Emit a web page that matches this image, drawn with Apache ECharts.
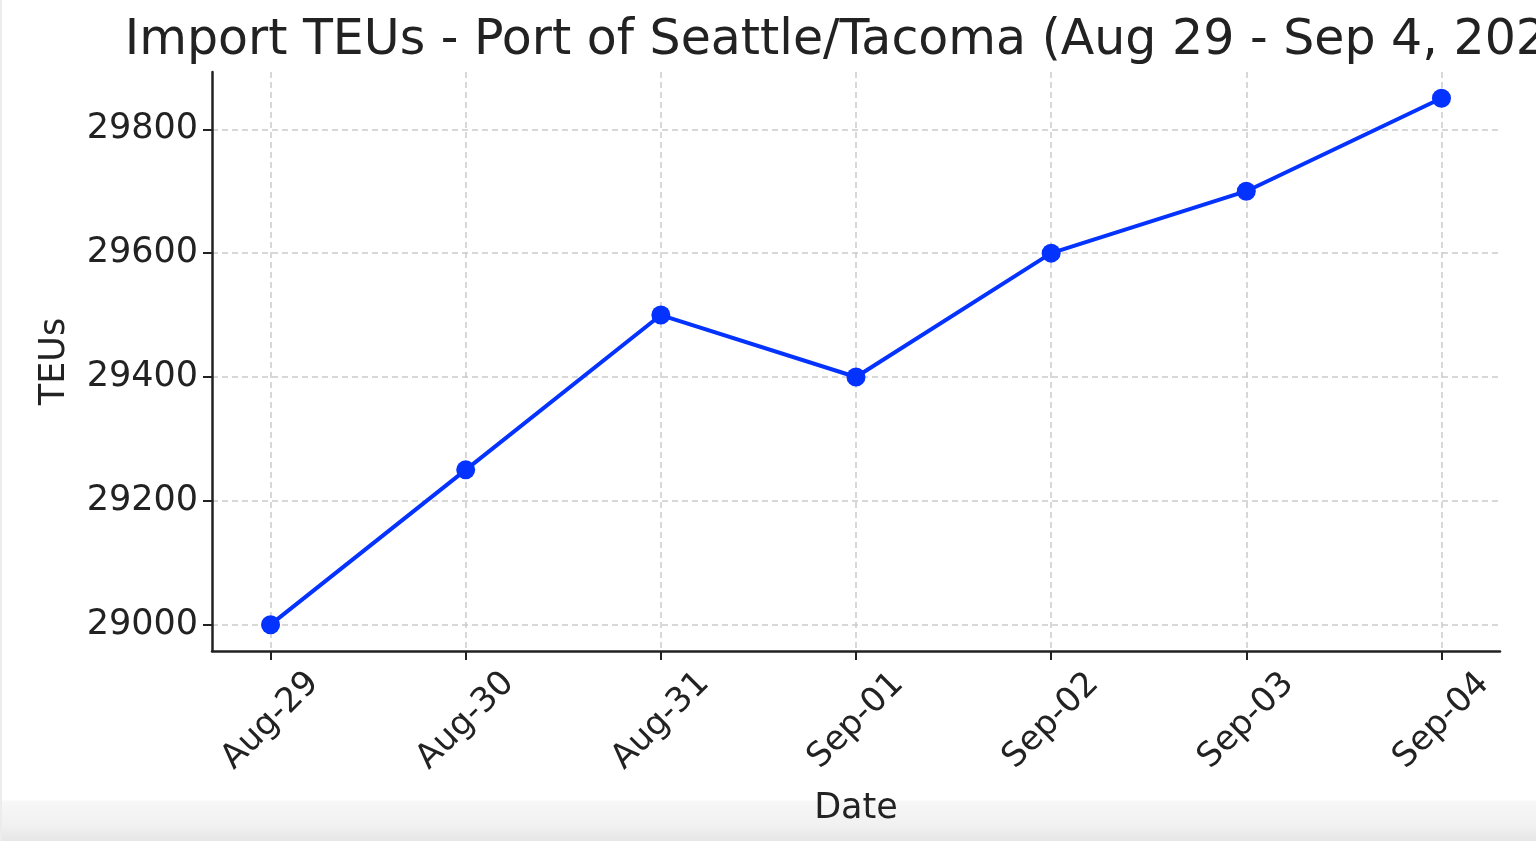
<!DOCTYPE html>
<html>
<head>
<meta charset="utf-8">
<script src="https://cdn.jsdelivr.net/npm/echarts@6/dist/echarts.min.js"></script>
<style>
  html, body { margin: 0; padding: 0; width: 1536px; height: 841px; overflow: hidden;
    background: linear-gradient(to bottom, #ffffff 0px, #ffffff 800px, #f7f7f7 801px, #f1f1f1 825px, #e6e6e6 841px); }
  #chart { position: absolute; left: 0; top: 0; width: 1536px; height: 841px; }
  #edge { position: absolute; left: 0; top: 0; width: 2px; height: 841px; background: #ececec; }
</style>
</head>
<body>
<div id="edge"></div>
<div id="chart"></div>
<script>
const titleText = 'Import TEUs - Port of Seattle/Tacoma (Aug 29 - Sep 4, 2024)';
const categories = ['Aug-29', 'Aug-30', 'Aug-31', 'Sep-01', 'Sep-02', 'Sep-03', 'Sep-04'];
const teus = [29000, 29250, 29500, 29400, 29600, 29700, 29850];
const yTicks = [29000, 29200, 29400, 29600, 29800];
const xLabel = 'Date';
const yLabel = 'TEUs';

const xIdx = categories.map((_, i) => i);
const dMin = Math.min(...teus), dMax = Math.max(...teus);
const pad = (dMax - dMin) * 0.05;
const xPad = (categories.length - 1) * 0.05;

const font = 'DejaVu Sans';
const txt = '#222222';
const chart = echarts.init(document.getElementById('chart'), null, { renderer: 'canvas' });
chart.setOption({
  backgroundColor: 'transparent',
  animation: false,
  title: {
    text: titleText,
    left: 856, top: 12,
    textAlign: 'center',
    textStyle: { fontFamily: font, fontSize: 49, fontWeight: 'normal', color: txt }
  },
  grid: { left: 212, right: 36, top: 72, bottom: 190, containLabel: false, outerBoundsMode: 'none' },
  xAxis: {
    type: 'value',
    min: -xPad, max: categories.length - 1 + xPad,
    name: xLabel, nameLocation: 'middle', nameGap: 140,
    nameTextStyle: { fontFamily: font, fontSize: 35, color: txt },
    axisLine: { show: true, onZero: false, lineStyle: { color: '#222', width: 2.5 } },
    axisTick: { show: true, customValues: xIdx, length: 9, inside: false, lineStyle: { color: '#222', width: 2 } },
    axisLabel: {
      customValues: xIdx,
      formatter: v => categories[Math.round(v)],
      rotate: 45, align: 'center', verticalAlign: 'middle', margin: 70,
      fontFamily: font, fontSize: 34, color: txt
    },
    splitLine: { show: true, lineStyle: { color: '#cccccc', width: 1.5, type: [6, 4] } }
  },
  yAxis: {
    type: 'value',
    min: dMin - pad, max: dMax + pad,
    name: yLabel, nameLocation: 'middle', nameGap: 140, nameRotate: 90,
    nameTextStyle: { fontFamily: font, fontSize: 35, color: txt },
    axisLine: { show: true, onZero: false, lineStyle: { color: '#222', width: 2.5 } },
    axisTick: { show: true, customValues: yTicks, length: 9, inside: false, lineStyle: { color: '#222', width: 2 } },
    axisLabel: { customValues: yTicks, formatter: v => String(v), margin: 14, fontFamily: font, fontSize: 35, color: txt },
    splitLine: { show: true, lineStyle: { color: '#cccccc', width: 1.5, type: [6, 4] } }
  },
  series: [{
    type: 'line',
    data: xIdx.map(i => [i, teus[i]]),
    symbol: 'circle', symbolSize: 19,
    lineStyle: { color: '#0433ff', width: 4 },
    itemStyle: { color: '#0433ff' },
    z: 3
  }]
});
</script>
</body>
</html>
